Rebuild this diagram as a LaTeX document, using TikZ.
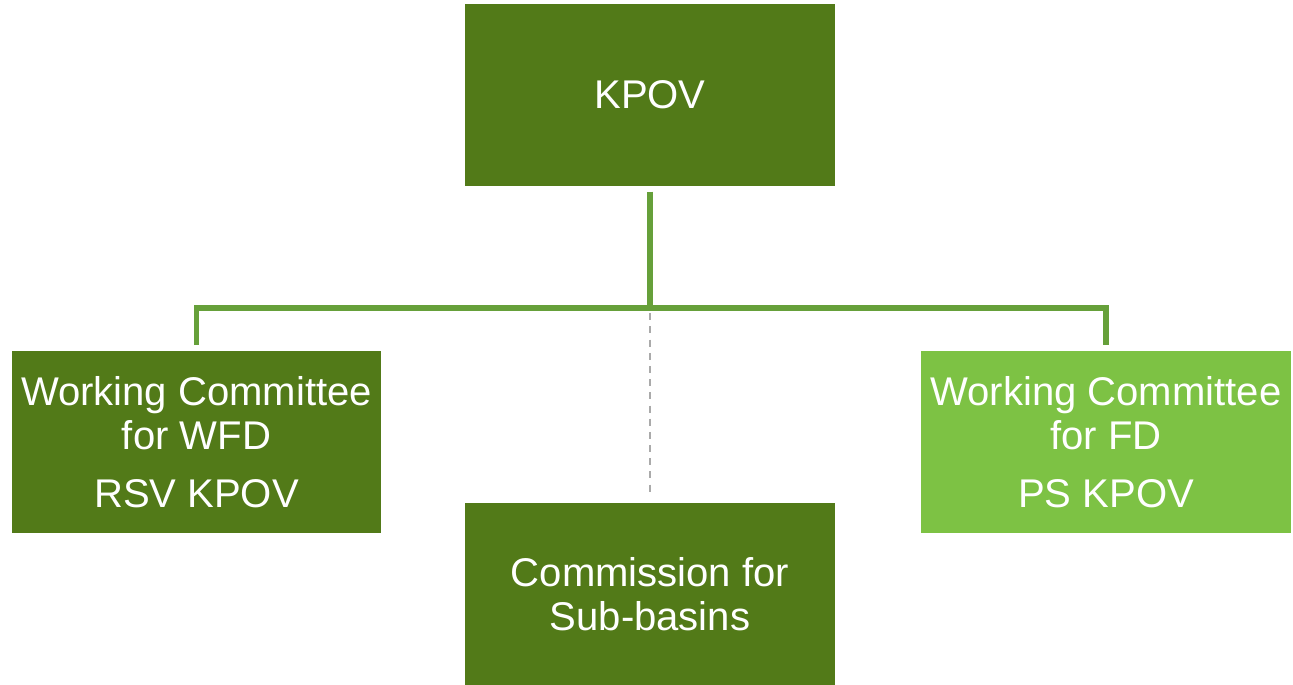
\documentclass[tikz,border=0pt]{standalone}
\usepackage{fontspec}
\setmainfont{Liberation Sans}
\usetikzlibrary{positioning}

\definecolor{darkleaf}{HTML}{527A18}
\definecolor{lightleaf}{HTML}{7DC244}
\definecolor{linkgreen}{HTML}{66A03A}
\definecolor{dashgray}{HTML}{AAAAAA}

\begin{document}
\begin{tikzpicture}[
x=0.02cm,y=-0.02cm,
unit/.style={
	fill=darkleaf,
	text=white,
	minimum width=7.4cm,
	minimum height=3.64cm,
	inner sep=0pt,
	align=center,
	font=\fontsize{22.8}{25}\selectfont
},
light/.style={
	unit,
	fill=lightleaf
},
link/.style={
	draw=linkgreen,
	line width=3.1pt
},
dashlink/.style={
	draw=dashgray,
	line width=1.1pt,
	dash pattern=on 4pt off 3.5pt
}
]
\useasboundingbox (0,0) rectangle (1293,684);

\node[unit] (kpov) at (650,95) {KPOV};
\node[unit] (wfd) at (196.5,442) {Working Committee\\for WFD\\[8pt]RSV KPOV};
\node[unit] (csb) at (650,594) {Commission for\\Sub-basins};
\node[light] (fd) at (1106,442) {Working Committee\\for FD\\[8pt]PS KPOV};

\coordinate (bus) at (650,308);

\draw[link,shorten <=3pt] (kpov.south) -- (bus);
\draw[link,shorten <=3.4pt,shorten >=3.4pt] (wfd.north) |- (bus) -| (fd.north);
\draw[dashlink,shorten <=3pt,shorten >=4pt] (bus) -- (csb.north);

\end{tikzpicture}
\end{document}
